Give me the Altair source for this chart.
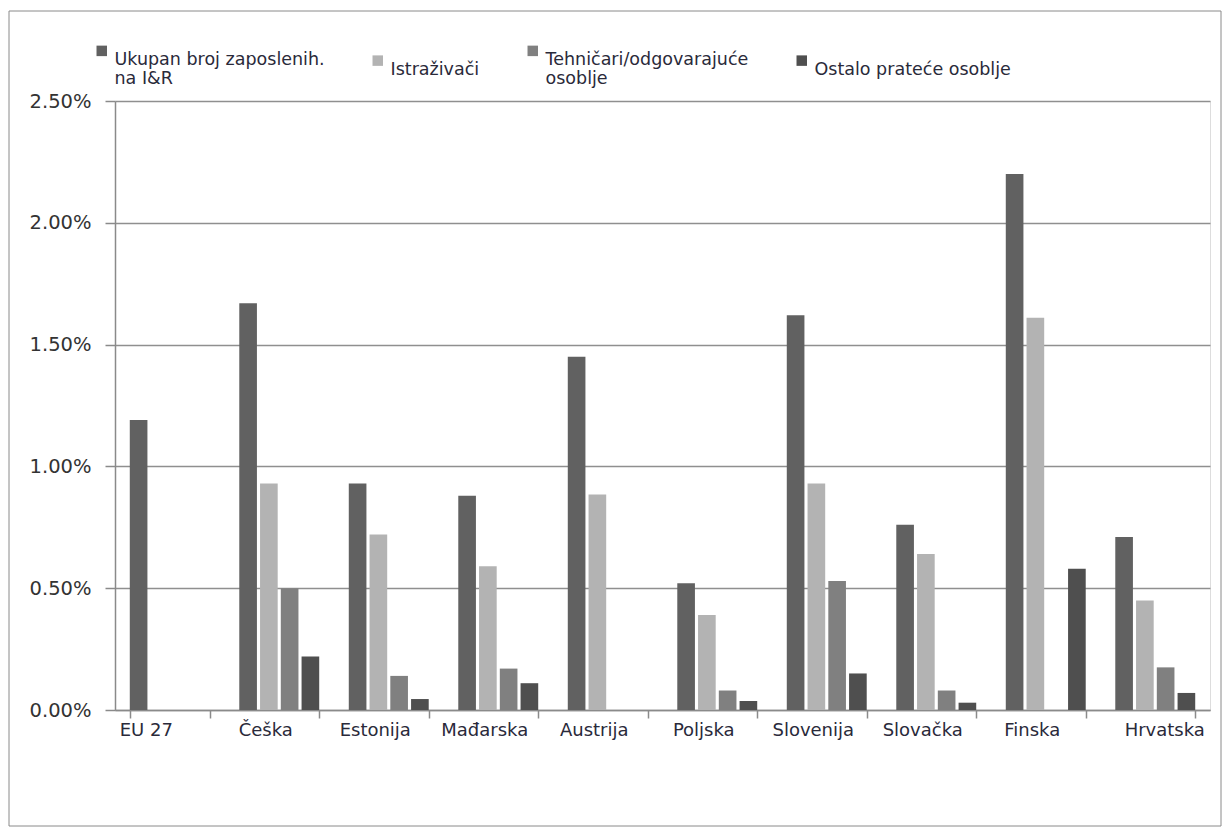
import altair as alt
import pandas as pd

countries = ["EU 27", "Češka", "Estonija", "Mađarska", "Austrija",
             "Poljska", "Slovenija", "Slovačka", "Finska", "Hrvatska"]
series = ["Ukupan broj zaposlenih.\nna I&R", "Istraživači",
          "Tehničari/odgovarajuće\nosoblje", "Ostalo prateće osoblje"]
colors = ["#616161", "#b3b3b3", "#808080", "#4f4f4f"]

# values in percent
total = [1.19, 1.67, 0.93, 0.88, 1.45, 0.52, 1.62, 0.76, 2.20, 0.71]
researchers = [None, 0.93, 0.72, 0.59, 0.885, 0.39, 0.93, 0.64, 1.61, 0.45]
technicians = [None, 0.50, 0.14, 0.17, None, 0.08, 0.53, 0.08, None, 0.175]
other_staff = [None, 0.22, 0.045, 0.11, None, 0.037, 0.15, 0.03, 0.58, 0.07]
y_ticks = [0, 0.005, 0.01, 0.015, 0.02, 0.025]

rows = []
for s, vals in zip(series, [total, researchers, technicians, other_staff]):
    for c, v in zip(countries, vals):
        if v is not None:
            rows.append({"country": c, "series": s, "value": v})
df = pd.DataFrame(rows)

FONT = "DejaVu Sans"
W, H = 1095, 609
PL, PT, PR, PB = 107, 93, 12, 118

x_label_offset = {
    "condition": [
        {"test": "datum.value === 'EU 27'", "value": -24},
        {"test": "datum.value === 'Hrvatska'", "value": 9},
    ],
    "value": -14,
}

bars = alt.Chart(df).transform_calculate(
    frac="datum.value / 100"
).mark_bar().encode(
    x=alt.X("country:N", sort=countries,
            scale=alt.Scale(paddingInner=0.27, paddingOuter=0.135),
            axis=alt.Axis(title=None, labelAngle=0, tickBand="extent",
                          domainColor="#8a8a8a", domainWidth=1.5,
                          tickColor="#8a8a8a", tickWidth=1.5, tickSize=8,
                          labelFont=FONT, labelFontSize=18, labelColor="#2a2a3a",
                          labelPadding=3, labelOffset=x_label_offset, grid=False)),
    xOffset=alt.XOffset("series:N", sort=series,
                        scale=alt.Scale(domain=series, paddingInner=0.15, paddingOuter=0)),
    y=alt.Y("frac:Q", scale=alt.Scale(domain=[0, 0.025], nice=False),
            axis=alt.Axis(title=None, format=".2%", values=y_ticks,
                          domainColor="#8a8a8a", domainWidth=1.5,
                          tickColor="#8a8a8a", tickWidth=1.5, tickSize=10,
                          gridColor="#8f8f8f", gridWidth=1.5,
                          labelFont=FONT, labelFontSize=19.5, labelColor="#333333",
                          labelPadding=14)),
    color=alt.Color("series:N", sort=series,
                    scale=alt.Scale(domain=series, range=colors),
                    legend=alt.Legend(title=None, orient="none", legendX=-22, legendY=-59,
                                      direction="horizontal", columns=4, columnPadding=44,
                                      symbolType="square", symbolSize=110, symbolStrokeWidth=0,
                                      labelFont=FONT, labelFontSize=17.5, labelColor="#2a2a3a",
                                      labelBaseline="top", labelOffset=4,
                                      labelExpr="split(datum.label, '\\n')",
                                      labelLimit=400)),
)

frame = alt.Chart(pd.DataFrame({"a": [0]})).mark_rect(
    filled=False, stroke="#8a8a8a", strokeWidth=1
).encode(
    x=alt.value(-106), x2=alt.value(1106), y=alt.value(-90), y2=alt.value(725)
)

chart = alt.layer(bars, frame).properties(
    width=W, height=H,
    autosize=alt.AutoSizeParams(type="none"),
    padding={"left": PL, "top": PT, "right": PR, "bottom": PB},
).configure_view(stroke=None).configure(background="white")

chart.save("out.html", embed_options={"renderer": "svg", "actions": False})
